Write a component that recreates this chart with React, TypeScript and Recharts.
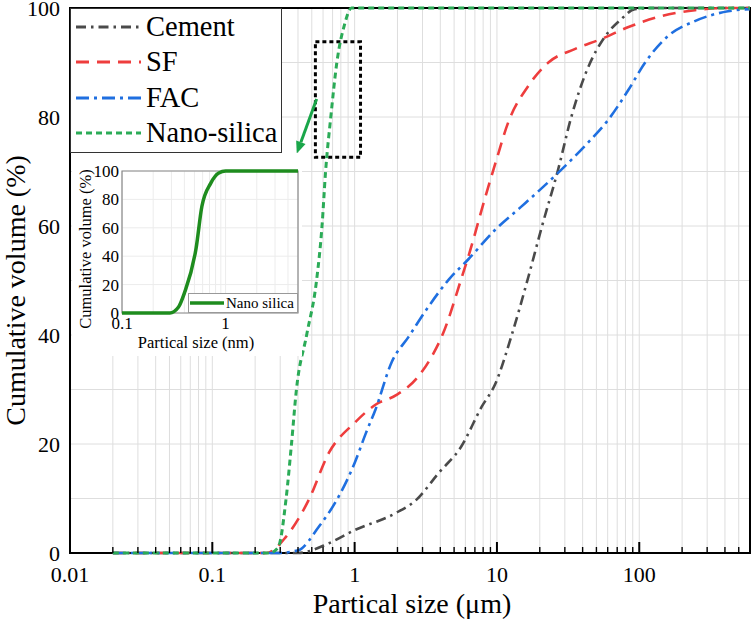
import React from 'react';
import {
  LineChart,
  Line,
  XAxis,
  YAxis,
  CartesianGrid,
  Legend,
  ReferenceArea,
  ReferenceLine,
} from 'recharts';

const SERIF = '"Liberation Serif", "Times New Roman", serif';

// main chart axes
const xMajor = [0.01, 0.1, 1, 10, 100];
const xTicks = [
  0.01, 0.02, 0.03, 0.04, 0.05, 0.06, 0.07, 0.08, 0.09,
  0.1, 0.2, 0.3, 0.4, 0.5, 0.6, 0.7, 0.8, 0.9,
  1, 2, 3, 4, 5, 6, 7, 8, 9,
  10, 20, 30, 40, 50, 60, 70, 80, 90,
  100, 200, 300, 400, 500, 600,
];
const yTicks = [0, 10, 20, 30, 40, 50, 60, 70, 80, 90, 100];
const yLabels = [0, 20, 40, 60, 80, 100];

// particle size distributions (x in um, y in %)
const cementX = [0.02, 0.05, 0.1, 0.2, 0.3, 0.4, 0.66, 1, 1.94, 2.7, 3.9, 5.6, 7.8, 9.8, 12.6, 16.6, 20.5, 27, 33.3, 42, 58, 75, 93, 120, 200, 400, 600];
const cementY = [0, 0, 0, 0, 0, 0, 1.8, 4.2, 7.3, 9.7, 14.7, 19.5, 26.8, 31.2, 39.7, 50.6, 59.5, 70.5, 80, 88, 94.9, 98, 99.8, 100, 100, 100, 100];

const sfX = [0.02, 0.05, 0.1, 0.2, 0.24, 0.33, 0.475, 0.66, 1, 1.4, 1.97, 2.72, 3.47, 4.2, 5.6, 6.3, 8.3, 9.8, 12, 16.6, 23, 35.5, 54, 84, 142, 246, 400, 600];
const sfY = [0, 0, 0, 0, 0, 3, 9.7, 18.4, 23.9, 27.2, 29, 32, 36, 40.4, 50.2, 54.4, 65.4, 71.7, 79, 85.7, 90, 92.5, 94.3, 96.5, 98.5, 99.6, 100, 100];

const facX = [0.02, 0.05, 0.1, 0.2, 0.29, 0.4, 0.56, 0.77, 1, 1.2, 1.4, 1.82, 2.4, 3.3, 4.6, 6.3, 9.8, 14.9, 27, 44, 61, 84, 110, 160, 246, 420, 600];
const facY = [0, 0, 0, 0, 0, 0.5, 4.8, 10.3, 16.5, 22, 26.3, 35, 39.7, 45.2, 50.2, 53.9, 59.4, 63.6, 69.8, 75.4, 79.6, 85, 90, 94.9, 97.6, 99.4, 99.8];

const nanoX = [0.02, 0.05, 0.1, 0.2, 0.25, 0.29, 0.33, 0.36, 0.39, 0.46, 0.54, 0.59, 0.625, 0.68, 0.75, 0.85, 0.95, 2, 10, 100, 600];
const nanoY = [0, 0, 0, 0, 0, 1, 10, 20, 30, 40, 50, 60, 70, 80, 90, 97, 100, 100, 100, 100, 100];

// inset (nano silica, nm)
const insetX = [0.1, 0.2, 0.29, 0.35, 0.4, 0.52, 0.59, 0.72, 0.86, 1, 2, 5];
const insetY = [0, 0, 0, 4, 14, 46, 75, 91.5, 98.6, 100, 100, 100];
const insetXTicks = [0.1, 0.2, 0.3, 0.4, 0.5, 0.6, 0.7, 0.8, 0.9, 1, 2, 3, 4, 5];
const insetXLabels = [0.1, 1];
const insetYTicks = [0, 20, 40, 60, 80, 100];

const zip = (xs: number[], ys: number[]) => xs.map((x, i) => ({ x, y: ys[i] }));

const series = [
  { name: 'Cement', data: zip(cementX, cementY), color: '#4a4a4a', dash: '10 5 2.5 5', width: 2.6 },
  { name: 'SF', data: zip(sfX, sfY), color: '#ee3d3d', dash: '13 8', width: 2.6 },
  { name: 'FAC', data: zip(facX, facY), color: '#1f6fe0', dash: '13 5 3 5', width: 2.6 },
  { name: 'Nano-silica', data: zip(nanoX, nanoY), color: '#2bab57', dash: '6 4', width: 3 },
];

function MainXTick({ x, y, payload }: any) {
  const major = xMajor.includes(payload.value);
  return (
    <g>
      <line x1={x} x2={x} y1={y} y2={y - (major ? 11 : 6)} stroke="#000" strokeWidth={major ? 2 : 1.4} />
      {major && (
        <text x={x} y={y + 29} textAnchor="middle" fontSize={22} fontFamily={SERIF} fill="#000">
          {payload.value}
        </text>
      )}
    </g>
  );
}

function InsetXTick({ x, y, payload }: any) {
  if (!insetXLabels.includes(payload.value)) return null;
  return (
    <text x={x} y={y + 16} textAnchor="middle" fontSize={17} fontFamily={SERIF} fill="#000">
      {payload.value}
    </text>
  );
}

// keep the legend in the series order (recharts sorts it by name)
function MainLegend() {
  return (
    <div
      style={{
        width: 212,
        height: 145,
        background: '#fff',
        border: '1.5px solid #333',
        boxSizing: 'border-box',
        fontFamily: SERIF,
        fontSize: 28.5,
        color: '#000',
      }}
    >
      {series.map((s) => (
        <div key={s.name} style={{ display: 'flex', alignItems: 'center', height: 35.5 }}>
          <svg width={72} height={10} style={{ flex: 'none' }}>
            <line x1={5} x2={70} y1={5} y2={5} stroke={s.color} strokeWidth={3} strokeDasharray={s.dash} />
          </svg>
          <span style={{ marginLeft: 3, lineHeight: 1, whiteSpace: 'nowrap' }}>{s.name}</span>
        </div>
      ))}
    </div>
  );
}

function InsetLegend() {
  return (
    <div
      style={{
        width: 110,
        height: 20,
        background: '#fff',
        border: '1px solid #999',
        boxSizing: 'border-box',
        display: 'flex',
        alignItems: 'center',
        fontFamily: SERIF,
        fontSize: 15,
        color: '#000',
        whiteSpace: 'nowrap',
        overflow: 'visible',
      }}
    >
      <svg width={36} height={6} style={{ flex: 'none' }}>
        <line x1={1} x2={35} y1={3} y2={3} stroke="#1e8c1e" strokeWidth={3.5} />
      </svg>
      <span style={{ marginLeft: 1, lineHeight: 1, whiteSpace: 'nowrap' }}>Nano silica</span>
    </div>
  );
}

function Arrow(props: any) {
  const { x1, y1, x2, y2 } = props;
  const a = Math.atan2(y2 - y1, x2 - x1);
  const L = 12;
  const W = 5;
  const bx = x2 - L * Math.cos(a);
  const by = y2 - L * Math.sin(a);
  const px = -Math.sin(a) * W;
  const py = Math.cos(a) * W;
  return (
    <g>
      <line x1={x1} y1={y1} x2={bx} y2={by} stroke="#1aa64a" strokeWidth={3} />
      <polygon points={`${x2},${y2} ${bx + px},${by + py} ${bx - px},${by - py}`} fill="#1aa64a" />
    </g>
  );
}

export default function App() {
  return (
    <div style={{ position: 'absolute', left: 0, top: 0, width: 752, height: 625, background: '#fff' }}>
      <LineChart width={752} height={625} margin={{ top: 8, right: 2, left: 0, bottom: 0 }}>
        <CartesianGrid stroke="#dedede" strokeWidth={1} />
        <XAxis
          type="number"
          dataKey="x"
          scale="log"
          domain={[0.01, 600]}
          allowDataOverflow
          ticks={xTicks}
          interval={0}
          height={72}
          axisLine={false}
          tickLine={false}
          tickSize={0}
          tickMargin={0}
          tick={<MainXTick />}
          label={(p: any) => {
            const vb = p.viewBox;
            return (
              <text x={vb.x + vb.width / 2 + 2} y={vb.y + 60} textAnchor="middle" fontSize={28} fontFamily={SERIF} fill="#000">
                Partical size (μm)
              </text>
            );
          }}
        />
        <YAxis
          type="number"
          domain={[0, 100]}
          ticks={yTicks}
          interval={0}
          width={70}
          axisLine={false}
          tickLine={false}
          tickSize={0}
          tickMargin={10}
          tickFormatter={(v: number) => (yLabels.includes(v) ? String(v) : '')}
          tick={{ fontSize: 22, fontFamily: SERIF, fill: '#000' }}
          label={(p: any) => {
            const vb = p.viewBox;
            const cy = vb.y + vb.height / 2 + 10;
            return (
              <text
                x={15}
                y={cy}
                transform={`rotate(-90 15 ${cy})`}
                textAnchor="middle"
                dominantBaseline="central"
                fontSize={28}
                fontFamily={SERIF}
                fill="#000"
              >
                Cumulative volume (%)
              </text>
            );
          }}
        />
        <ReferenceArea x1={0.01} x2={600} y1={0} y2={100} fill="none" fillOpacity={0} stroke="#000" strokeWidth={2} />
        {series.map((s) => (
          <Line
            key={s.name}
            name={s.name}
            data={s.data}
            dataKey="y"
            type="monotone"
            stroke={s.color}
            strokeWidth={s.width}
            strokeDasharray={s.dash}
            dot={false}
            activeDot={false}
            isAnimationActive={false}
          />
        ))}
        <ReferenceArea
          x1={0.53}
          x2={1.1}
          y1={72.6}
          y2={93.8}
          fill="none"
          fillOpacity={0}
          stroke="#000"
          strokeWidth={3}
          strokeDasharray="4 3"
          ifOverflow="visible"
        />
        <ReferenceLine
          segment={[
            { x: 0.541, y: 83.3 },
            { x: 0.392, y: 73.3 },
          ]}
          ifOverflow="visible"
          shape={<Arrow />}
        />
        <Legend
          layout="vertical"
          align="center"
          verticalAlign="middle"
          content={<MainLegend />}
          wrapperStyle={{ left: 70, top: 8, right: 'auto', bottom: 'auto', width: 212, height: 145 }}
        />
      </LineChart>

      <div style={{ position: 'absolute', left: 72, top: 153, width: 230, height: 203, background: '#fff' }}>
        <LineChart width={230} height={203} margin={{ top: 18, right: 4, left: 0, bottom: 0 }}>
          <CartesianGrid stroke="#ececec" />
          <XAxis
            type="number"
            dataKey="x"
            scale="log"
            domain={[0.1, 5]}
            allowDataOverflow
            ticks={insetXTicks}
            interval={0}
            height={43}
            axisLine={false}
            tickLine={false}
            tickSize={0}
            tickMargin={0}
            tick={<InsetXTick />}
            label={(p: any) => {
              const vb = p.viewBox;
              return (
                <text x={124} y={vb.y + 35} textAnchor="middle" fontSize={16.5} fontFamily={SERIF} fill="#000">
                  Partical size (nm)
                </text>
              );
            }}
          />
          <YAxis
            type="number"
            domain={[0, 100]}
            ticks={insetYTicks}
            interval={0}
            width={50}
            axisLine={false}
            tickLine={false}
            tickSize={0}
            tickMargin={3}
            tick={{ fontSize: 17, fontFamily: SERIF, fill: '#000' }}
            label={(p: any) => {
              const vb = p.viewBox;
              const cy = vb.y + vb.height / 2 + 7;
              return (
                <text
                  x={13}
                  y={cy}
                  transform={`rotate(-90 13 ${cy})`}
                  textAnchor="middle"
                  dominantBaseline="central"
                  fontSize={16.5}
                  fontFamily={SERIF}
                  fill="#000"
                >
                  Cumulative volume (%)
                </text>
              );
            }}
          />
          <ReferenceArea x1={0.1} x2={5} y1={0} y2={100} fill="none" fillOpacity={0} stroke="#888" strokeWidth={1.2} />
          <Line
            name="Nano silica"
            data={zip(insetX, insetY)}
            dataKey="y"
            type="monotone"
            stroke="#1e8c1e"
            strokeWidth={3.5}
            dot={false}
            activeDot={false}
            isAnimationActive={false}
          />
          <Legend
            layout="vertical"
            align="center"
            verticalAlign="middle"
            content={<InsetLegend />}
            wrapperStyle={{ left: 116, top: 140, right: 'auto', bottom: 'auto', width: 110, height: 20 }}
          />
        </LineChart>
      </div>
    </div>
  );
}
